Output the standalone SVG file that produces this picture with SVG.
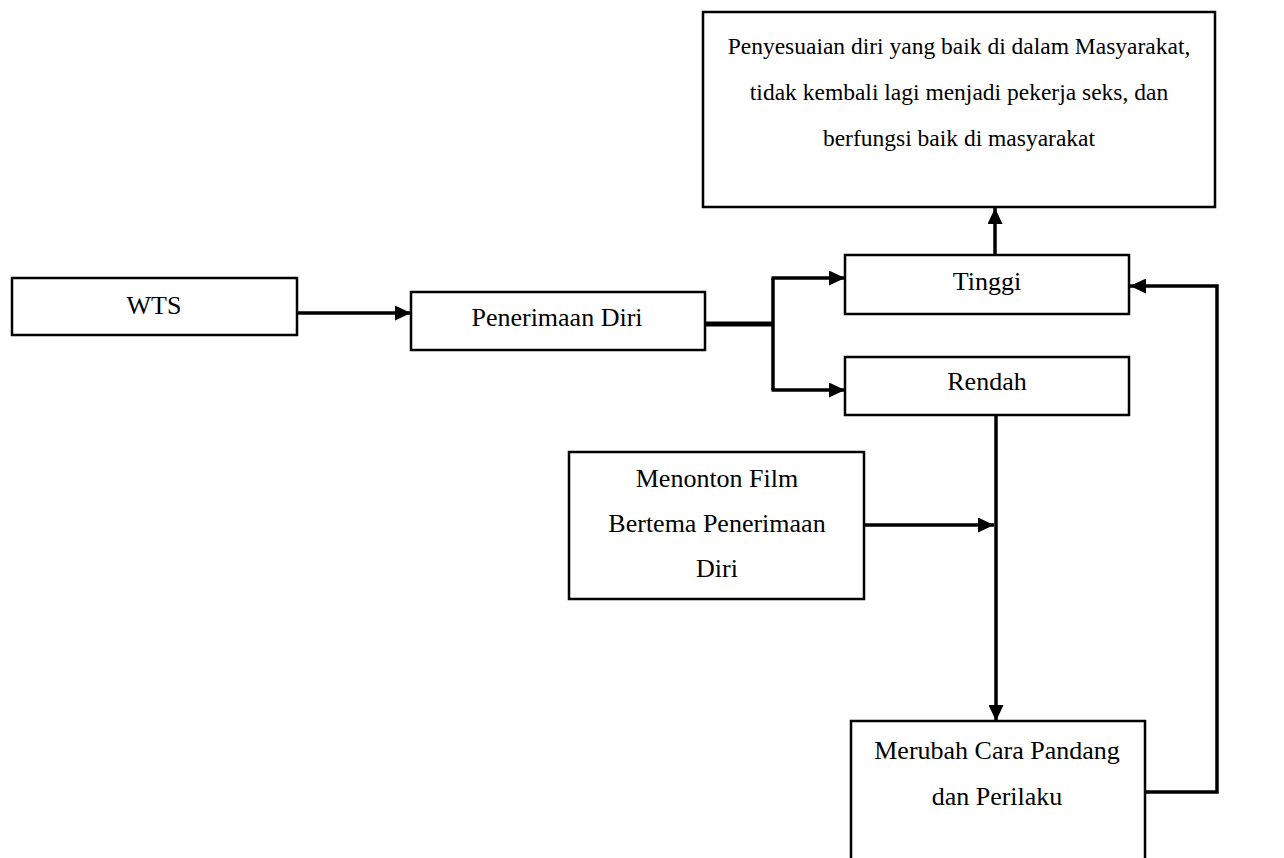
<svg xmlns="http://www.w3.org/2000/svg" width="1284" height="858" viewBox="0 0 1284 858">
<style>
  .box { fill: #ffffff; stroke: #000000; stroke-width: 2.5; }
  .t { font-family: "Liberation Serif", "Times New Roman", serif; font-size: 26px; fill: #000000; text-anchor: middle; }
  .ts { font-size: 23.5px; }
  .c { fill: none; stroke: #000000; stroke-width: 3.5; }
  .cw { stroke-width: 5; }
</style>
<defs>
  <marker id="ah" markerUnits="userSpaceOnUse" markerWidth="16" markerHeight="15" refX="16" refY="7.5" orient="auto">
    <path d="M0,0 L16,7.5 L0,15 Z" fill="#000000"/>
  </marker>
</defs>
<g id="connectors">
  <path class="c" d="M298,313 H411" marker-end="url(#ah)"/>
  <path class="c cw" d="M705,324 H773"/>
  <path class="c" d="M773,278 V390"/>
  <path class="c" d="M771.5,278 H845" marker-end="url(#ah)"/>
  <path class="c" d="M771.5,390 H845" marker-end="url(#ah)"/>
  <path class="c" d="M995,255 V208" marker-end="url(#ah)"/>
  <path class="c" d="M996,415 V721" marker-end="url(#ah)"/>
  <path class="c" d="M864,525 H994" marker-end="url(#ah)"/>
  <path class="c" d="M1146,792 H1217 V286 H1130" marker-end="url(#ah)"/>
</g>
<g id="node-top">
  <rect class="box" x="703" y="12" width="512" height="195"/>
  <text class="t ts" x="959" y="54">Penyesuaian diri yang baik di dalam Masyarakat,</text>
  <text class="t ts" x="959" y="100">tidak kembali lagi menjadi pekerja seks, dan</text>
  <text class="t ts" x="959" y="146">berfungsi baik di masyarakat</text>
</g>
<g id="node-wts">
  <rect class="box" x="12" y="278" width="285" height="57"/>
  <text class="t" x="154" y="314">WTS</text>
</g>
<g id="node-penerimaan">
  <rect class="box" x="411" y="292" width="294" height="58"/>
  <text class="t" x="557" y="326">Penerimaan Diri</text>
</g>
<g id="node-tinggi">
  <rect class="box" x="845" y="255" width="284" height="59"/>
  <text class="t" x="987" y="290">Tinggi</text>
</g>
<g id="node-rendah">
  <rect class="box" x="845" y="357" width="284" height="58"/>
  <text class="t" x="987" y="390">Rendah</text>
</g>
<g id="node-menonton">
  <rect class="box" x="569" y="452" width="295" height="147"/>
  <text class="t" x="717" y="487">Menonton Film</text>
  <text class="t" x="717" y="532">Bertema Penerimaan</text>
  <text class="t" x="717" y="577">Diri</text>
</g>
<g id="node-merubah">
  <rect class="box" x="851" y="721" width="294" height="150"/>
  <text class="t" x="997" y="759">Merubah Cara Pandang</text>
  <text class="t" x="997" y="805">dan Perilaku</text>
</g>
</svg>
